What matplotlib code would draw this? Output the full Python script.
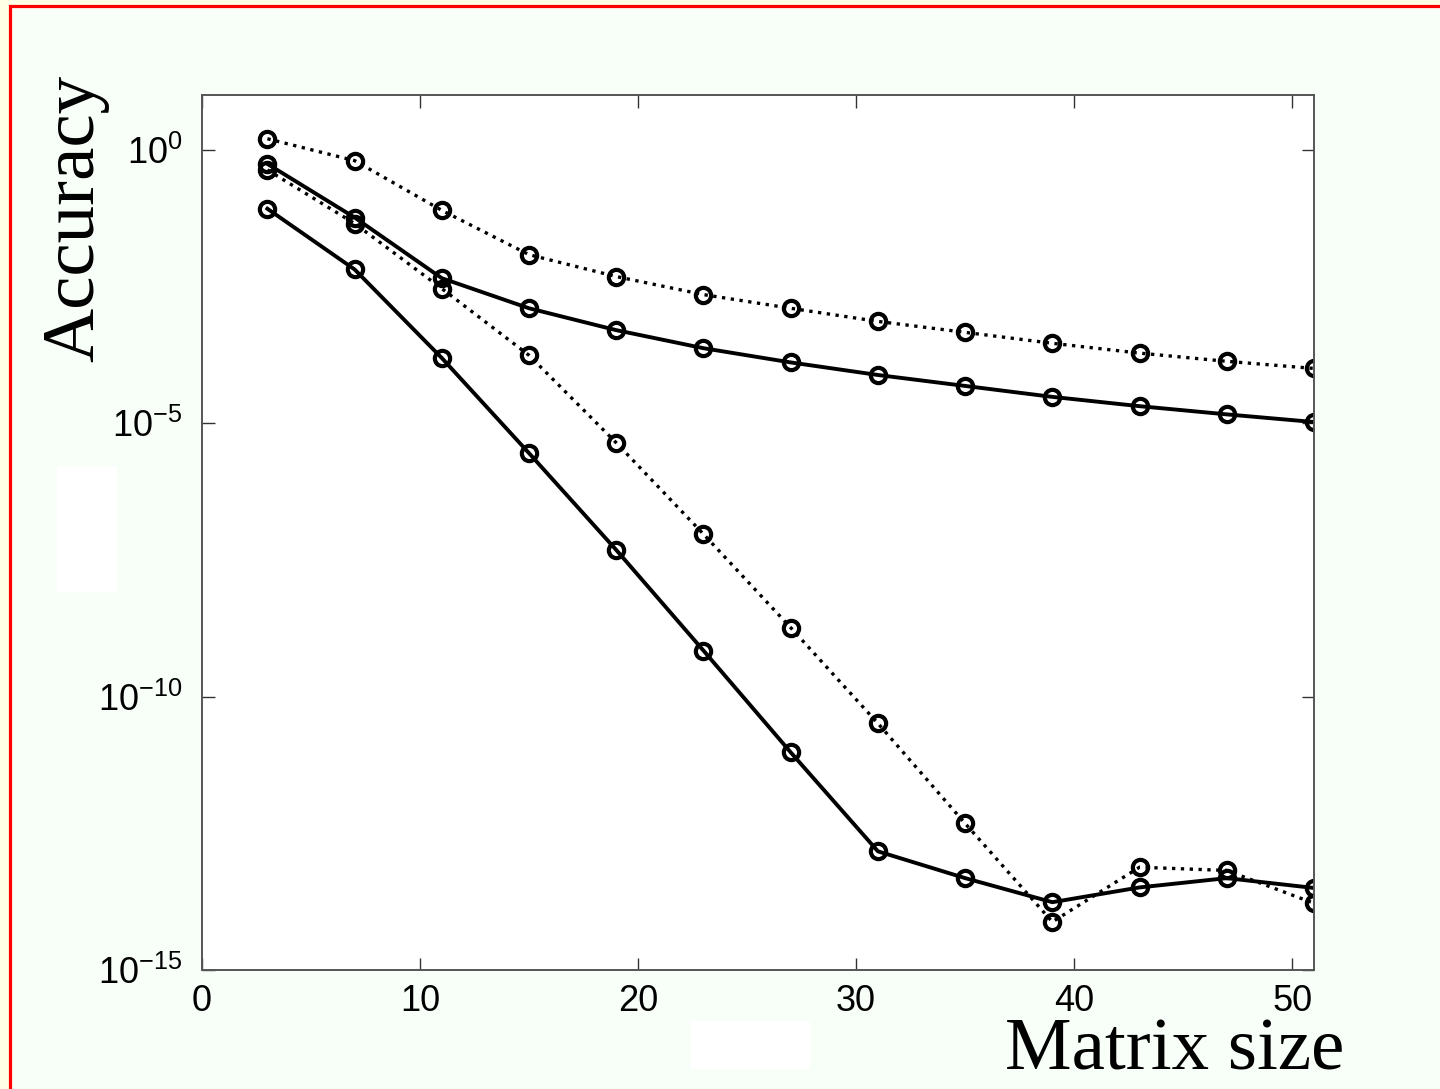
import numpy as np
import matplotlib
matplotlib.use("Agg")
import matplotlib.pyplot as plt
from matplotlib.patches import Rectangle
from matplotlib.ticker import FixedLocator, FuncFormatter

plt.rcParams["mathtext.fontset"] = "custom"
plt.rcParams["mathtext.rm"] = "Liberation Sans"
plt.rcParams["mathtext.it"] = "Liberation Sans"

# Matrix sizes and log10 of the accuracy
sizes = [3, 7, 11, 15, 19, 23, 27, 31, 35, 39, 43, 47, 51]
log_dotted_top = [0.20, -0.20, -1.11, -1.92, -2.32, -2.65, -2.90, -3.14, -3.34, -3.54, -3.72, -3.87, -4.00]
log_solid_top = [-0.26, -1.24, -2.35, -2.90, -3.30, -3.63, -3.89, -4.12, -4.32, -4.52, -4.69, -4.84, -4.98]
log_dotted_low = [-0.37, -1.35, -2.54, -3.76, -5.36, -7.03, -8.74, -10.49, -12.32, -14.12, -13.12, -13.18, -13.78]
log_solid_low = [-1.08, -2.19, -3.81, -5.55, -7.32, -9.16, -11.02, -12.83, -13.32, -13.76, -13.49, -13.32, -13.50]

x_ticks = [0, 10, 20, 30, 40, 50]
y_tick_exps = [0, -5, -10, -15]

W, H = 1440, 1089
fig = plt.figure(figsize=(W / 100, H / 100), dpi=100, facecolor="#FFFFE6")

# page background with red frame (cut off on the right and bottom)
fig.patches.append(Rectangle((9.5 / W, -0.02), 1.05, 1 - 5.5 / H + 0.02,
                             transform=fig.transFigure, facecolor="#F8FFF8",
                             edgecolor="red", linewidth=2.3, zorder=-10))

ax = fig.add_axes([202 / W, 1 - 970 / H, 1112 / W, 875 / H])
ax.set_facecolor("white")

style = dict(color="black", marker="o", markersize=11, markerfacecolor="none",
             markeredgewidth=3.0)
ax.plot(sizes, 10.0 ** np.array(log_dotted_top), linestyle=":", linewidth=2.4, **style)
ax.plot(sizes, 10.0 ** np.array(log_dotted_low), linestyle=":", linewidth=2.4, **style)
ax.plot(sizes, 10.0 ** np.array(log_solid_top), linestyle="-", linewidth=2.8, **style)
ax.plot(sizes, 10.0 ** np.array(log_solid_low), linestyle="-", linewidth=2.8, **style)

ax.set_yscale("log")
ax.set_xlim(0, 51)
ax.set_ylim(1e-15, 1e1)
ax.xaxis.set_major_locator(FixedLocator(x_ticks))
ax.yaxis.set_major_locator(FixedLocator([10.0 ** e for e in y_tick_exps]))
ax.yaxis.set_minor_locator(FixedLocator([]))
ax.yaxis.set_major_formatter(FuncFormatter(
    lambda v, p: r"$\mathregular{10^{%d}}$" % round(np.log10(v))))

for s in ax.spines.values():
    s.set_color("#555555")
    s.set_linewidth(1.4)
ax.tick_params(which="both", direction="in", length=9, width=1.0, color="#333333",
               top=True, right=True, labelsize=26)
ax.tick_params(axis="x", pad=10)
ax.tick_params(axis="y", pad=14)
for lab in ax.get_xticklabels() + ax.get_yticklabels():
    lab.set_fontfamily("Liberation Sans")

fig.text(75 / W, 1 - 218 / H, "Accuracy", rotation=90, ha="center", va="center",
         fontsize=54, family="Liberation Serif")
fig.text(1005 / W, 1 - 1070 / H, "Matrix size", ha="left", va="baseline",
         fontsize=54, family="Liberation Serif")

# white blanking boxes
fig.patches.append(Rectangle((57 / W, 1 - 592 / H), 60 / W, 126 / H,
                             transform=fig.transFigure, facecolor="white",
                             edgecolor="none", zorder=5))
fig.patches.append(Rectangle((690 / W, 1 - 1069 / H), 120 / W, 48 / H,
                             transform=fig.transFigure, facecolor="white",
                             edgecolor="none", zorder=5))

fig.savefig("out.png", dpi=100, facecolor=fig.get_facecolor())
